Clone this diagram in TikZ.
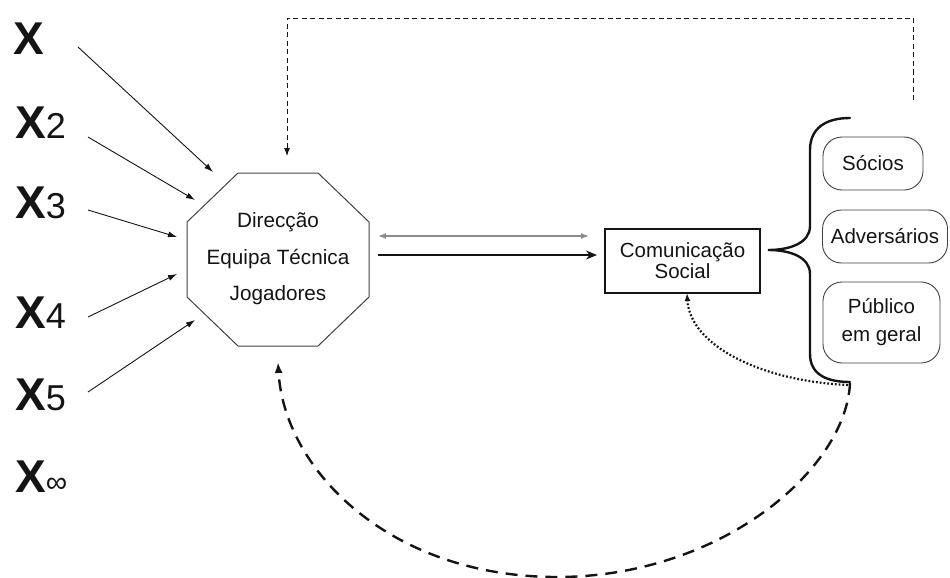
\documentclass[tikz,border=0pt]{standalone}
\usepackage{fontspec}
\setmainfont{Liberation Sans}
\usetikzlibrary{arrows.meta}

\definecolor{ink}{HTML}{141414}
\definecolor{edge}{HTML}{404040}
\definecolor{softgray}{HTML}{8C8C8C}

\begin{document}
\begin{tikzpicture}[x=1pt,y=-1pt,
  varlabel/.style={inner sep=0pt, anchor=base west, text=ink,
    font=\fontsize{46}{46}\selectfont},
  feed/.style={-{Latex[length=9pt,width=6pt]}, line width=0.9pt, ink},
  bodytext/.style={text=ink, font=\fontsize{20.5}{21}\selectfont, align=center},
  groupbox/.style={draw=edge, line width=0.9pt, rounded corners=19pt,
    inner sep=0pt, text=ink, font=\fontsize{20.5}{28}\selectfont, align=center},
  linkgray/.style={{Latex[length=8pt,width=6pt]}-{Latex[length=8pt,width=6pt]},
    line width=1.4pt, softgray},
  linkblack/.style={-{Stealth[length=11pt,width=9pt]}, line width=1.2pt, ink},
  loopdash/.style={dash pattern=on 5pt off 3.5pt, line width=0.9pt, ink,
    -{Latex[length=8pt,width=6pt]}},
  loopdot/.style={line width=2.2pt, ink, dash pattern=on 1.8pt off 2pt,
    -{Latex[length=8pt,width=6pt]}},
  loopwide/.style={line width=2.4pt, ink, dash pattern=on 12pt off 8pt,
    -{Latex[length=11pt,width=8pt]}},
  brace/.style={line width=2.4pt, ink, line cap=round}
]
\useasboundingbox (0,0) rectangle (950,578);

% input variables
\node[varlabel] (x1) at (13,55) {\bfseries X};
\node[varlabel] (x2) at (15,138) {\bfseries X{\mdseries\fontsize{36}{36}\selectfont 2}};
\node[varlabel] (x3) at (15,218) {\bfseries X{\mdseries\fontsize{36}{36}\selectfont 3}};
\node[varlabel] (x4) at (15,328) {\bfseries X{\mdseries\fontsize{36}{36}\selectfont 4}};
\node[varlabel] (x5) at (15,410) {\bfseries X{\mdseries\fontsize{36}{36}\selectfont 5}};
\node[varlabel] (xinf) at (15,492) {\bfseries X{\mdseries\fontsize{30}{30}\selectfont ∞}};

% octagon: club structure
\draw[edge, line width=1pt]
  (238,173) -- (318,173) -- (369,222) -- (369,297) -- (318,346)
  -- (238,346) -- (187,297) -- (187,222) -- cycle;
\node[text=ink, align=center, font=\fontsize{20.7}{36.5}\selectfont] (core)
  at (278,259) {Direcção\\Equipa Técnica\\Jogadores};

% media box
\node[draw=ink, line width=1.1pt, minimum width=155pt, minimum height=64pt,
  inner sep=0pt, bodytext] (media) at (682.5,261) {Comunicação\\Social};

% audience boxes
\node[groupbox, minimum width=100pt, minimum height=53pt] (socios)
  at (873,163.5) {Sócios};
\node[groupbox, minimum width=125pt, minimum height=53pt] (advers)
  at (885,236.5) {Adversários};
\node[groupbox, minimum width=117pt, minimum height=81pt] (publico)
  at (881.5,322.5) {Público\\em geral};

% curly brace gathering the audiences
\draw[brace] (850,118) .. controls (826,118) and (810,128) .. (810,150)
  -- (810,226) .. controls (810,243) and (790,250) .. (768,250)
  .. controls (790,250) and (810,257) .. (810,274)
  -- (810,354) .. controls (810,374) and (826,382) .. (850,382);

% anchor points for the connectors
\coordinate (s1) at (78,47);   \coordinate (e1) at (213,172);
\coordinate (s2) at (88,137);  \coordinate (e2) at (195,200);
\coordinate (s3) at (88,210);  \coordinate (e3) at (177,237);
\coordinate (s4) at (88,317);  \coordinate (e4) at (177,274);
\coordinate (s5) at (88,392);  \coordinate (e5) at (195,320);
\coordinate (coreR1) at (378,236); \coordinate (mediaL1) at (589,236);
\coordinate (coreR2) at (378,255); \coordinate (mediaL2) at (597,255);
\coordinate (topR) at (913,100); \coordinate (topTR) at (913,18);
\coordinate (topTL) at (287,18); \coordinate (coreTop) at (287,156);
\coordinate (braceEnd) at (848,385); \coordinate (mediaB) at (687,293);
\coordinate (braceTick) at (850,383); \coordinate (coreBot) at (278,362);

% influences on the club
\draw[feed] (s1) -- (e1);
\draw[feed] (s2) -- (e2);
\draw[feed] (s3) -- (e3);
\draw[feed] (s4) -- (e4);
\draw[feed] (s5) -- (e5);

% club <-> media
\draw[linkgray] (coreR1) -- (mediaL1);
\draw[linkblack] (coreR2) -- (mediaL2);

% feedback loops
\draw[loopdash] (topR) -- (topTR) -- (topTL) -- (coreTop);
\draw[loopdot] (braceEnd) .. controls (760,381) and (690,345) .. (mediaB);
\draw[loopwide] (braceTick) .. controls (846,470) and (720,577) .. (557,577)
  .. controls (390,577) and (284,470) .. (coreBot);
\end{tikzpicture}
\end{document}
